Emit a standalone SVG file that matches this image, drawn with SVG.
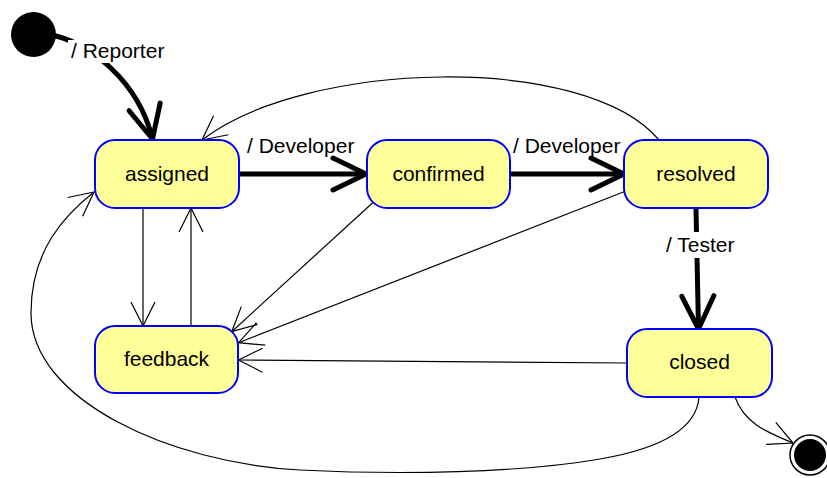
<svg xmlns="http://www.w3.org/2000/svg" width="827" height="478" viewBox="0 0 827 478">
  <defs>
    <style>
      .state rect { fill: #FFFF99; stroke: #0000FF; stroke-width: 2; }
      .state text, .label { font-family: "Liberation Sans", Arial, sans-serif; font-size: 21px; fill: #000; }
      .state text { text-anchor: middle; }
      .thin { fill: none; stroke: #000; stroke-width: 1.2; marker-end: url(#openThin); }
      .thick { fill: none; stroke: #000; stroke-width: 5; stroke-linecap: round; marker-end: url(#openThick); }
      .labelbg { fill: #FFFFFF; }
    </style>
    <marker id="openThin" markerUnits="userSpaceOnUse" orient="auto" refX="0" refY="0" markerWidth="30" markerHeight="30" overflow="visible">
      <path d="M -24 -12 L 0 0 L -24 12" fill="none" stroke="#000" stroke-width="1.2"/>
    </marker>
    <marker id="openThick" markerUnits="userSpaceOnUse" orient="auto" refX="0" refY="0" markerWidth="40" markerHeight="40" overflow="visible">
      <path d="M -33 -16 L 0 0 L -33 16" fill="none" stroke="#000" stroke-width="5" stroke-linecap="round" stroke-linejoin="round"/>
    </marker>
  </defs>

  <g id="connectors">
    <!-- initial -> assigned -->
    <path class="thick" d="M 56 36 C 90 45, 138 80, 152.5 139"/>
    <!-- assigned -> confirmed -->
    <path class="thick" d="M 240 174 L 366 174"/>
    <!-- confirmed -> resolved -->
    <path class="thick" d="M 511 174 L 624 174"/>
    <!-- resolved -> closed -->
    <path class="thick" d="M 696 209 L 698.5 329"/>
    <!-- assigned <-> feedback -->
    <path class="thin" d="M 143 208 L 143 326"/>
    <path class="thin" d="M 191 326 L 191 208"/>
    <!-- confirmed -> feedback -->
    <path class="thin" d="M 372.7 202.7 L 231.7 331.7"/>
    <!-- resolved -> feedback -->
    <path class="thin" d="M 624 191.7 L 238.5 342.7"/>
    <!-- closed -> feedback -->
    <path class="thin" d="M 627 363 L 238.5 360"/>
    <!-- resolved -> assigned -->
    <path class="thin" d="M 659 140 C 585 52, 305 60, 202 140"/>
    <!-- closed -> assigned -->
    <path class="thin" d="M 699 397 C 697 425, 670 447, 600 459 C 520 473, 400 475, 300 470 C 170 463, 31 400, 31 313 C 31 250, 65 215, 94 192"/>
    <!-- closed -> final -->
    <path class="thin" d="M 735 397 C 745 425, 770 433, 793 443"/>

    <!-- transition labels -->
    <rect class="labelbg" x="68" y="40" width="98" height="23"/>
    <text class="label" x="71" y="58">/ Reporter</text>
    <text class="label" x="247" y="153">/ Developer</text>
    <text class="label" x="513" y="153">/ Developer</text>
    <rect class="labelbg" x="663" y="232" width="77" height="26"/>
    <text class="label" x="666" y="252">/ Tester</text>
  </g>

  <g id="initial">
    <circle cx="33.5" cy="34.5" r="22.5" fill="#000"/>
  </g>

  <g id="final">
    <circle cx="810" cy="455" r="20" fill="#FFF" stroke="#000" stroke-width="1.5"/>
    <circle cx="810" cy="455" r="16" fill="#000"/>
  </g>

  <g id="assigned" class="state">
    <rect x="95" y="140" width="144" height="68" rx="20" ry="20"/>
    <text x="167" y="181">assigned</text>
  </g>

  <g id="confirmed" class="state">
    <rect x="367" y="140" width="143" height="68" rx="20" ry="20"/>
    <text x="438.5" y="181">confirmed</text>
  </g>

  <g id="resolved" class="state">
    <rect x="624" y="140" width="144" height="68" rx="20" ry="20"/>
    <text x="696" y="181">resolved</text>
  </g>

  <g id="feedback" class="state">
    <rect x="95" y="326" width="143" height="67" rx="20" ry="20"/>
    <text x="166.5" y="366">feedback</text>
  </g>

  <g id="closed" class="state">
    <rect x="627" y="329" width="145" height="68" rx="20" ry="20"/>
    <text x="699.5" y="369">closed</text>
  </g>
</svg>
